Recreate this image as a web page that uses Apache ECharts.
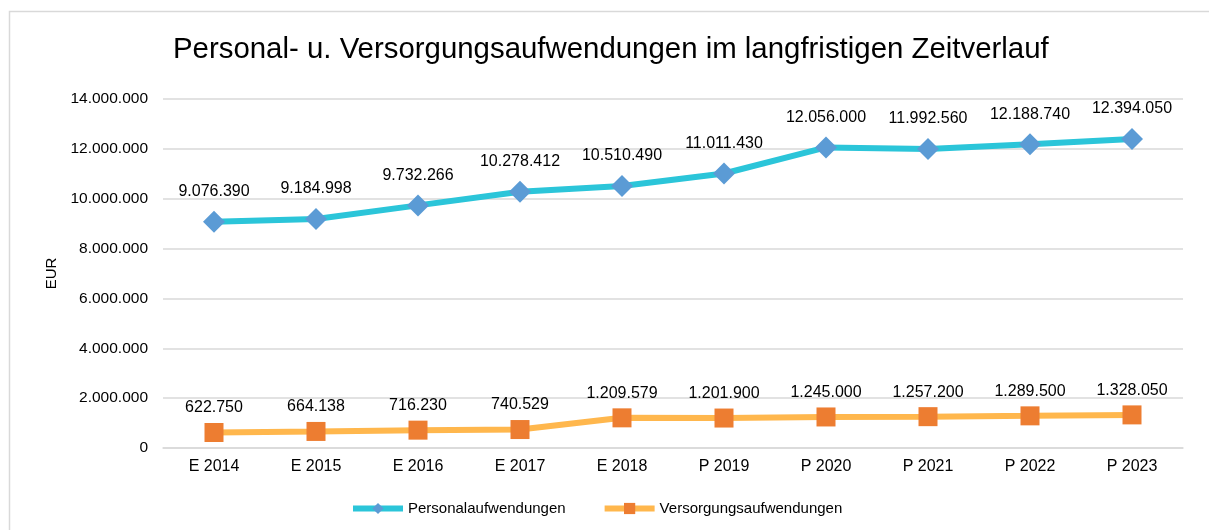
<!DOCTYPE html>
<html>
<head>
    <meta charset="utf-8">
    <title>Personal- u. Versorgungsaufwendungen</title>
    <script src="https://cdn.jsdelivr.net/npm/echarts@6/dist/echarts.min.js"></script>
    <style>
        html, body { margin: 0; padding: 0; background: #fff; }
        #chart1 { width: 1209px; height: 530px; }
    </style>
</head>
<body>
<div id="chart1"></div>
<script type="text/javascript">
    // Daten
    var jahre = ['E 2014', 'E 2015', 'E 2016', 'E 2017', 'E 2018', 'P 2019', 'P 2020', 'P 2021', 'P 2022', 'P 2023'];
    var personal = [9076390, 9184998, 9732266, 10278412, 10510490, 11011430, 12056000, 11992560, 12188740, 12394050];
    var versorgung = [622750, 664138, 716230, 740529, 1209579, 1201900, 1245000, 1257200, 1289500, 1328050];

    function fmt(v) {
        return String(v).replace(/\B(?=(\d{3})+(?!\d))/g, '.');
    }

    var myChart1 = echarts.init(document.getElementById('chart1'));
    var fontFam = '"Liberation Sans", Arial, sans-serif';

    myChart1.setOption({
        animation: false,
        textStyle: { fontFamily: fontFam },
        graphic: [{
            type: 'rect',
            shape: { x: 9.5, y: 11.5, width: 1240, height: 560 },
            style: { fill: 'none', stroke: '#d9d9d9', lineWidth: 1.5 },
            silent: true
        }],
        title: {
            text: 'Personal- u. Versorgungsaufwendungen im langfristigen Zeitverlauf',
            left: 168,
            top: 30,
            textStyle: { fontFamily: fontFam, fontSize: 29.4, fontWeight: 'normal', color: '#000' }
        },
        legend: {
            left: 345,
            bottom: 9,
            itemWidth: 50,
            itemHeight: 14,
            itemGap: 36,
            textStyle: { fontFamily: fontFam, fontSize: 15, color: '#000' },
            lineStyle: { width: 6 },
            data: ['Personalaufwendungen', 'Versorgungsaufwendungen']
        },
        grid: { left: 163, right: 26, top: 99, bottom: 82 },
        xAxis: {
            type: 'category',
            data: jahre,
            axisLine: { lineStyle: { color: '#d9d9d9', width: 1.5 } },
            axisTick: { show: false },
            axisLabel: { color: '#000', fontSize: 16, margin: 11, fontFamily: fontFam }
        },
        yAxis: {
            type: 'value',
            min: 0,
            max: 14000000,
            interval: 2000000,
            name: 'EUR',
            nameLocation: 'middle',
            nameGap: 102,
            nameRotate: 90,
            nameTextStyle: { color: '#000', fontSize: 15, fontFamily: fontFam },
            axisLine: { show: false },
            axisTick: { show: false },
            axisLabel: { color: '#000', fontSize: 15.5, margin: 15, fontFamily: fontFam, formatter: fmt },
            splitLine: { lineStyle: { color: '#d9d9d9', width: 1.5 } }
        },
        series: [{
            name: 'Personalaufwendungen',
            type: 'line',
            data: personal,
            symbol: 'diamond',
            symbolSize: 22,
            lineStyle: { color: '#2bc5d9', width: 6 },
            itemStyle: { color: '#5b9bd5' },
            label: {
                show: true,
                position: 'top',
                distance: 11,
                color: '#000',
                fontSize: 16,
                fontFamily: fontFam,
                formatter: function (p) { return fmt(p.value); }
            }
        }, {
            name: 'Versorgungsaufwendungen',
            type: 'line',
            data: versorgung,
            symbol: 'rect',
            symbolSize: 19,
            lineStyle: { color: '#ffb74d', width: 6 },
            itemStyle: { color: '#ed7d31' },
            label: {
                show: true,
                position: 'top',
                distance: 7,
                color: '#000',
                fontSize: 16,
                fontFamily: fontFam,
                formatter: function (p) { return fmt(p.value); }
            }
        }]
    });
</script>
</body>
</html>
